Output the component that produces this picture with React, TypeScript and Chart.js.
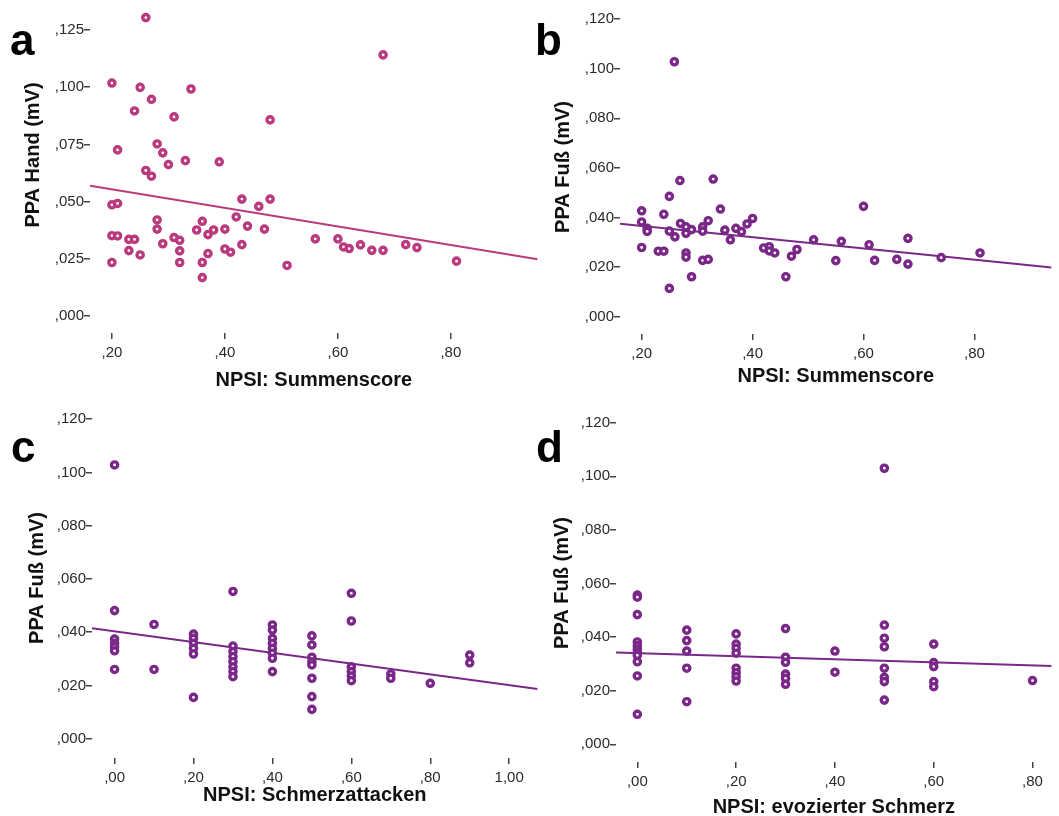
import React, { useEffect, useRef } from "react";
import { Chart, registerables } from "chart.js";

Chart.register(...registerables);
Chart.defaults.font.family = '"Liberation Sans", Arial, sans-serif';

const PINK = "#BA3A7E";
const PURPLE = "#7A2888";
const FONT = '"Liberation Sans", Arial, sans-serif';

// ---------- Panel a: NPSI Summenscore vs PPA Hand ----------
const handX = [
  0.26, 0.68, 0.20, 0.25, 0.34, 0.27, 0.24, 0.31, 0.48, 0.21, 0.28, 0.29, 0.30, 0.33, 0.39, 0.26,
  0.27, 0.20, 0.21, 0.43, 0.48, 0.46, 0.42, 0.28, 0.36, 0.28, 0.35, 0.38, 0.37, 0.40, 0.44, 0.47,
  0.20, 0.21, 0.23, 0.24, 0.31, 0.32, 0.29, 0.23, 0.25, 0.32, 0.32, 0.36, 0.37, 0.36, 0.20, 0.40,
  0.41, 0.43, 0.51, 0.56, 0.60, 0.61, 0.62, 0.64, 0.66, 0.68, 0.72, 0.74, 0.81,
];
const handY = [
  0.1304, 0.1141, 0.1018, 0.0999, 0.0992, 0.0947, 0.0896, 0.0870, 0.0857, 0.0726, 0.0752, 0.0713,
  0.0662, 0.0679, 0.0674, 0.0636, 0.0611, 0.0486, 0.0492, 0.0511, 0.0511, 0.0479, 0.0433, 0.0420,
  0.0414, 0.0380, 0.0376, 0.0376, 0.0356, 0.0380, 0.0393, 0.0380, 0.0351, 0.0350, 0.0335, 0.0335,
  0.0343, 0.0331, 0.0316, 0.0286, 0.0267, 0.0285, 0.0234, 0.0234, 0.0273, 0.0168, 0.0234, 0.0293,
  0.0279, 0.0312, 0.0221, 0.0337, 0.0337, 0.0302, 0.0295, 0.0311, 0.0287, 0.0287, 0.0312, 0.0299,
  0.0240,
];
const fitHandX = [0.1612, 0.9535];
const fitHandY = [0.0569, 0.0248];

// ---------- Panel b: NPSI Summenscore vs PPA Fuß ----------
const footSumX = [
  0.259, 0.269, 0.329, 0.25, 0.60, 0.342, 0.20, 0.24, 0.20, 0.27, 0.40, 0.39, 0.32, 0.21, 0.21, 0.25,
  0.26, 0.28, 0.28, 0.29, 0.31, 0.31, 0.35, 0.37, 0.38, 0.36, 0.20, 0.23, 0.24, 0.28, 0.28, 0.29,
  0.25, 0.31, 0.32, 0.42, 0.43, 0.43, 0.44, 0.46, 0.47, 0.48, 0.51, 0.55, 0.56, 0.61, 0.62, 0.66,
  0.68, 0.68, 0.74, 0.81,
];
const footSumY = [
  0.1028, 0.0549, 0.0555, 0.0485, 0.0445, 0.0434, 0.0427, 0.0413, 0.0382, 0.0376, 0.0396, 0.0374,
  0.0387, 0.0356, 0.0344, 0.0345, 0.0322, 0.0362, 0.0336, 0.0351, 0.0362, 0.0345, 0.0349, 0.0356,
  0.0343, 0.0310, 0.0279, 0.0264, 0.0264, 0.0257, 0.0240, 0.0161, 0.0114, 0.0227, 0.0231, 0.0277,
  0.0282, 0.0265, 0.0257, 0.0161, 0.0244, 0.0271, 0.0310, 0.0226, 0.0304, 0.0290, 0.0227, 0.0231,
  0.0316, 0.0212, 0.0238, 0.0257,
];
const fitFootSumX = [0.161, 0.939];
const fitFootSumY = [0.0375, 0.0198];

// ---------- Panel c: NPSI Schmerzattacken vs PPA Fuß ----------
const attackX = [
  0, 0, 0, 0, 0, 0, 0,
  0.1, 0.1,
  0.2, 0.2, 0.2, 0.2, 0.2, 0.2,
  0.3, 0.3, 0.3, 0.3, 0.3, 0.3, 0.3, 0.3,
  0.4, 0.4, 0.4, 0.4, 0.4, 0.4, 0.4, 0.4,
  0.5, 0.5, 0.5, 0.5, 0.5, 0.5, 0.5, 0.5,
  0.6, 0.6, 0.6, 0.6, 0.6, 0.6,
  0.7, 0.7,
  0.8,
  0.9, 0.9,
];
const attackY = [
  0.1028, 0.0481, 0.0374, 0.0358, 0.0345, 0.0330, 0.0260,
  0.0429, 0.0260,
  0.0393, 0.0377, 0.0358, 0.0339, 0.0318, 0.0155,
  0.0553, 0.0348, 0.0327, 0.0308, 0.0289, 0.0270, 0.0252, 0.0233,
  0.0427, 0.0408, 0.0377, 0.0358, 0.0339, 0.0321, 0.0302, 0.0252,
  0.0386, 0.0352, 0.0306, 0.0289, 0.0277, 0.0227, 0.0158, 0.0110,
  0.0546, 0.0442, 0.0270, 0.0252, 0.0235, 0.0218,
  0.0243, 0.0227,
  0.0208,
  0.0314, 0.0285,
];
const fitAttackX = [-0.0572, 1.072];
const fitAttackY = [0.0415, 0.0187];

// ---------- Panel d: NPSI evozierter Schmerz vs PPA Fuß ----------
const evokedX = [
  0, 0, 0, 0, 0, 0, 0, 0, 0, 0, 0,
  0.1, 0.1, 0.1, 0.1, 0.1,
  0.2, 0.2, 0.2, 0.2, 0.2, 0.2, 0.2, 0.2,
  0.3, 0.3, 0.3, 0.3, 0.3, 0.3,
  0.4, 0.4,
  0.5, 0.5, 0.5, 0.5, 0.5, 0.5, 0.5, 0.5,
  0.6, 0.6, 0.6, 0.6, 0.6,
  0.8,
];
const evokedY = [
  0.0557, 0.0549, 0.0484, 0.0382, 0.0368, 0.0355, 0.0343, 0.0332, 0.0308, 0.0255, 0.0112,
  0.0426, 0.0387, 0.0348, 0.0284, 0.0159,
  0.0412, 0.0374, 0.0358, 0.0340, 0.0284, 0.0267, 0.0252, 0.0236,
  0.0432, 0.0325, 0.0306, 0.0262, 0.0246, 0.0224,
  0.0348, 0.0269,
  0.1030, 0.0445, 0.0396, 0.0364, 0.0284, 0.0250, 0.0234, 0.0165,
  0.0374, 0.0305, 0.0290, 0.0234, 0.0215,
  0.0238,
];
const fitEvokedX = [-0.0432, 0.8386];
const fitEvokedY = [0.0343, 0.0292];

// ---------- Ticks ----------
const yTicksHand = [0, 0.025, 0.05, 0.075, 0.1, 0.125];
const yLabelsHand = [",000", ",025", ",050", ",075", ",100", ",125"];
const yTicksFoot = [0, 0.02, 0.04, 0.06, 0.08, 0.1, 0.12];
const yLabelsFoot = [",000", ",020", ",040", ",060", ",080", ",100", ",120"];
const xTicksSum = [0.2, 0.4, 0.6, 0.8];
const xLabelsSum = [",20", ",40", ",60", ",80"];
const xTicksAttack = [0, 0.2, 0.4, 0.6, 0.8, 1.0];
const xLabelsAttack = [",00", ",20", ",40", ",60", ",80", "1,00"];
const xTicksEvoked = [0, 0.2, 0.4, 0.6, 0.8];
const xLabelsEvoked = [",00", ",20", ",40", ",60", ",80"];

const yTitlePlugin = {
  id: "yTitle",
  afterDraw(chart: any, _args: any, opts: any) {
    const ctx = chart.ctx;
    ctx.save();
    ctx.translate(opts.x, opts.y);
    ctx.rotate(-Math.PI / 2);
    ctx.font = `bold 20px ${FONT}`;
    ctx.fillStyle = "#111";
    ctx.textAlign = "center";
    ctx.textBaseline = "middle";
    ctx.fillText(opts.text, 0, 0);
    ctx.restore();
  },
};

type PanelProps = {
  left: number; top: number; width: number; height: number;
  padTop: number; padRight: number; axisW: number; axisH: number;
  xMin: number; xMax: number; yMin: number; yMax: number;
  xs: number[]; ys: number[]; fitX: number[]; fitY: number[]; color: string;
  xTicks: number[]; xLabels: string[]; yTicks: number[]; yLabels: string[];
  xTitle: string; xTitlePad: number; yTitle: string; yTitleX: number; yTitleY: number;
};

function Panel(p: PanelProps) {
  const ref = useRef<HTMLCanvasElement>(null);
  useEffect(() => {
    if (!ref.current) return;
    const tickFont = { size: 15, family: FONT };
    const chart = new Chart(ref.current, {
      type: "scatter",
      data: {
        datasets: [
          {
            data: p.xs.map((x, i) => ({ x, y: p.ys[i] })),
            pointStyle: "circle",
            pointRadius: 3.1,
            pointBorderWidth: 3.4,
            pointBackgroundColor: "#ffffff",
            pointBorderColor: p.color,
            showLine: false,
            order: 0,
          },
          {
            data: p.fitX.map((x, i) => ({ x, y: p.fitY[i] })),
            showLine: true,
            borderColor: p.color,
            borderWidth: 2,
            pointRadius: 0,
            fill: false,
            order: 1,
          },
        ],
      } as any,
      options: {
        responsive: false,
        animation: false,
        events: [],
        layout: { padding: { left: 0, top: p.padTop, right: p.padRight, bottom: 0 } },
        plugins: {
          legend: { display: false },
          tooltip: { enabled: false },
          yTitle: { text: p.yTitle, x: p.yTitleX, y: p.yTitleY },
        } as any,
        scales: {
          x: {
            type: "linear",
            min: p.xMin,
            max: p.xMax,
            afterBuildTicks: (s: any) => { s.ticks = p.xTicks.map((v) => ({ value: v })); },
            afterFit: (s: any) => { s.height = p.axisH; },
            ticks: {
              callback: (_v: any, i: number) => p.xLabels[i],
              font: tickFont,
              color: "#2a2a2a",
              padding: 5,
              autoSkip: false,
              maxRotation: 0,
            },
            grid: { drawOnChartArea: false, drawTicks: true, tickLength: 6, color: "#444", lineWidth: 1.5 },
            border: { display: false },
            title: {
              display: true,
              text: p.xTitle,
              color: "#111",
              font: { size: 20, weight: "bold", family: FONT },
              padding: { top: 0, bottom: p.xTitlePad },
            },
          },
          y: {
            type: "linear",
            min: p.yMin,
            max: p.yMax,
            afterBuildTicks: (s: any) => { s.ticks = p.yTicks.map((v) => ({ value: v })); },
            afterFit: (s: any) => { s.width = p.axisW; },
            ticks: {
              callback: (_v: any, i: number) => p.yLabels[i],
              font: tickFont,
              color: "#2a2a2a",
              padding: 0,
              autoSkip: false,
            },
            grid: { drawOnChartArea: false, drawTicks: true, tickLength: 6, color: "#444", lineWidth: 1.5 },
            border: { display: false },
          },
        },
      } as any,
      plugins: [yTitlePlugin as any],
    });
    return () => chart.destroy();
  }, []);
  return (
    <canvas
      ref={ref}
      width={p.width}
      height={p.height}
      style={{ position: "absolute", left: p.left, top: p.top, width: p.width, height: p.height, display: "block" }}
    />
  );
}

const letterStyle = (left: number, top: number): React.CSSProperties => ({
  position: "absolute",
  left,
  top,
  font: `bold 44px ${FONT}`,
  lineHeight: "44px",
  color: "#000",
});

export default function App() {
  return (
    <div style={{ position: "absolute", left: 0, top: 0, width: 1059, height: 816, background: "#fff", overflow: "hidden" }}>
      <Panel
        left={0} top={0} width={545} height={400} padTop={8} padRight={6} axisW={90} axisH={67}
        xMin={0.1612} xMax={0.9535} yMin={-0.0074} yMax={0.13415}
        xs={handX} ys={handY} fitX={fitHandX} fitY={fitHandY} color={PINK}
        xTicks={xTicksSum} xLabels={xLabelsSum} yTicks={yTicksHand} yLabels={yLabelsHand}
        xTitle="NPSI: Summenscore" xTitlePad={8} yTitle="PPA Hand (mV)" yTitleX={33} yTitleY={155}
      />
      <Panel
        left={545} top={0} width={514} height={400} padTop={10} padRight={0} axisW={75} axisH={66}
        xMin={0.161} xMax={0.939} yMin={-0.00698} yMax={0.12367}
        xs={footSumX} ys={footSumY} fitX={fitFootSumX} fitY={fitFootSumY} color={PURPLE}
        xTicks={xTicksSum} xLabels={xLabelsSum} yTicks={yTicksFoot} yLabels={yLabelsFoot}
        xTitle="NPSI: Summenscore" xTitlePad={12} yTitle="PPA Fuß (mV)" yTitleX={18} yTitleY={167}
      />
      <Panel
        left={0} top={400} width={545} height={416} padTop={10} padRight={5} axisW={92} axisH={58}
        xMin={-0.0572} xMax={1.072} yMin={-0.00725} yMax={0.12343}
        xs={attackX} ys={attackY} fitX={fitAttackX} fitY={fitAttackY} color={PURPLE}
        xTicks={xTicksAttack} xLabels={xLabelsAttack} yTicks={yTicksFoot} yLabels={yLabelsFoot}
        xTitle="NPSI: Schmerzattacken" xTitlePad={9} yTitle="PPA Fuß (mV)" yTitleX={37} yTitleY={178}
      />
      <Panel
        left={545} top={400} width={514} height={416} padTop={13} padRight={0} axisW={71} axisH={54}
        xMin={-0.0432} xMax={0.8386} yMin={-0.0066} yMax={0.12362}
        xs={evokedX} ys={evokedY} fitX={fitEvokedX} fitY={fitEvokedY} color={PURPLE}
        xTicks={xTicksEvoked} xLabels={xLabelsEvoked} yTicks={yTicksFoot} yLabels={yLabelsFoot}
        xTitle="NPSI: evozierter Schmerz" xTitlePad={-3} yTitle="PPA Fuß (mV)" yTitleX={17} yTitleY={183}
      />
      <div style={letterStyle(10, 18)}>a</div>
      <div style={letterStyle(535, 18)}>b</div>
      <div style={letterStyle(11, 425)}>c</div>
      <div style={letterStyle(536, 425)}>d</div>
    </div>
  );
}
